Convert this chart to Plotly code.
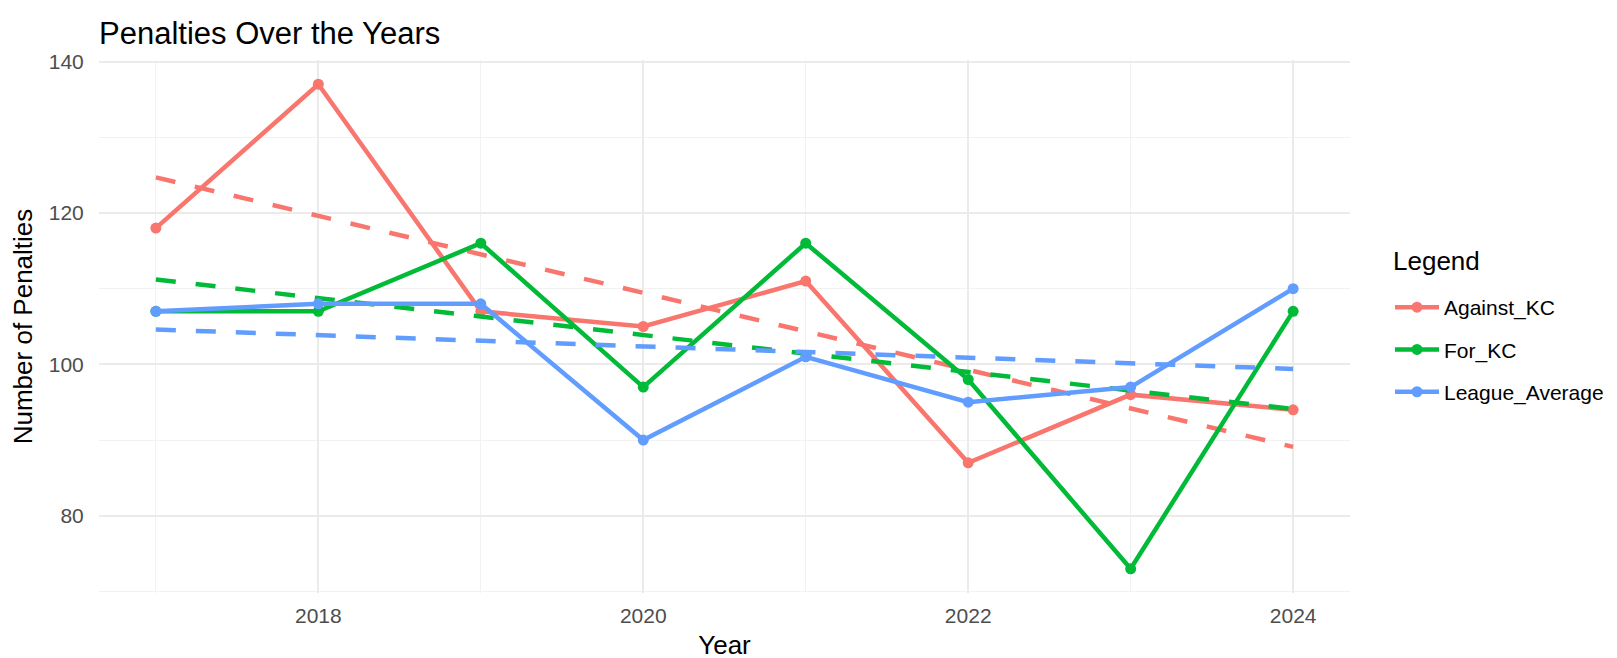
import plotly.graph_objects as go

# values
years = [2017, 2018, 2019, 2020, 2021, 2022, 2023, 2024]
against_kc = [118, 137, 107, 105, 111, 87, 96, 94]
for_kc = [107, 107, 116, 97, 116, 98, 73, 107]
league_average = [107, 108, 108, 90, 101, 95, 97, 110]

# dashed linear trend, start/end values at the first and last year
trend_years = [2017, 2024]
against_trend = [124.7, 89.1]
for_trend = [111.2, 94.1]
league_trend = [104.6, 99.4]

series = [
    ("Against_KC", against_kc, against_trend, "#F8766D"),
    ("For_KC", for_kc, for_trend, "#00BA38"),
    ("League_Average", league_average, league_trend, "#619CFF"),
]

FONT = "Liberation Sans, Arial, sans-serif"
W, H = 1617, 658
L, R, T, B = 91, 275, 52, 73

fig = go.Figure()
for name, values, trend, color in series:
    fig.add_trace(go.Scatter(x=years, y=values, mode='lines+markers', name=name,
                             legendgroup=name,
                             line=dict(color=color, width=4.5),
                             marker=dict(color=color, size=11)))
    fig.add_trace(go.Scatter(x=trend_years, y=trend, mode='lines', name=name,
                             legendgroup=name, showlegend=False,
                             line=dict(color=color, width=4.5, dash='20px,20px')))

plot_w = W - L - R
plot_h = H - T - B
fig.update_layout(
    width=W, height=H,
    paper_bgcolor='white', plot_bgcolor='white',
    margin=dict(l=L, r=R, t=T, b=B, autoexpand=False),
    font=dict(family=FONT, color='black'),
    title=dict(text="Penalties Over the Years", x=L/W, xref='container', xanchor='left',
               y=1 - 25/H, yref='container', yanchor='middle',
               font=dict(size=31, color='black')),
    legend=dict(font=dict(size=21), xref='container', yref='container',
                x=1382/W, xanchor='left', y=1 - 279/H, yanchor='top',
                itemwidth=44, tracegroupgap=12, bgcolor='rgba(0,0,0,0)'),
    showlegend=True,
    annotations=[dict(text="Legend", xref='paper', yref='paper',
                      x=(1383 - L)/plot_w, y=(H - B - 253)/plot_h,
                      xanchor='left', yanchor='middle', showarrow=False,
                      font=dict(size=26, color='black'))],
)
fig.update_xaxes(range=[2016.65, 2024.35], tick0=2018, dtick=2,
                 showgrid=True, gridcolor='#EBEBEB', gridwidth=2, zeroline=False,
                 ticks='outside', ticklen=4, tickcolor='rgba(0,0,0,0)',
                 tickfont=dict(size=21, color='#4D4D4D'),
                 minor=dict(dtick=1, tick0=2017, showgrid=True, gridcolor='#F2F2F2', gridwidth=1),
                 title=dict(text="Year", font=dict(size=26), standoff=9))
fig.update_yaxes(range=[69.8, 140.2], tick0=0, dtick=20,
                 showgrid=True, gridcolor='#EBEBEB', gridwidth=2, zeroline=False,
                 ticks='outside', ticklen=10, tickcolor='rgba(0,0,0,0)',
                 tickfont=dict(size=21, color='#4D4D4D'),
                 minor=dict(dtick=10, tick0=0, showgrid=True, gridcolor='#F2F2F2', gridwidth=1),
                 title=dict(text="Number of Penalties", font=dict(size=26), standoff=10))

fig.write_html("out.html")
